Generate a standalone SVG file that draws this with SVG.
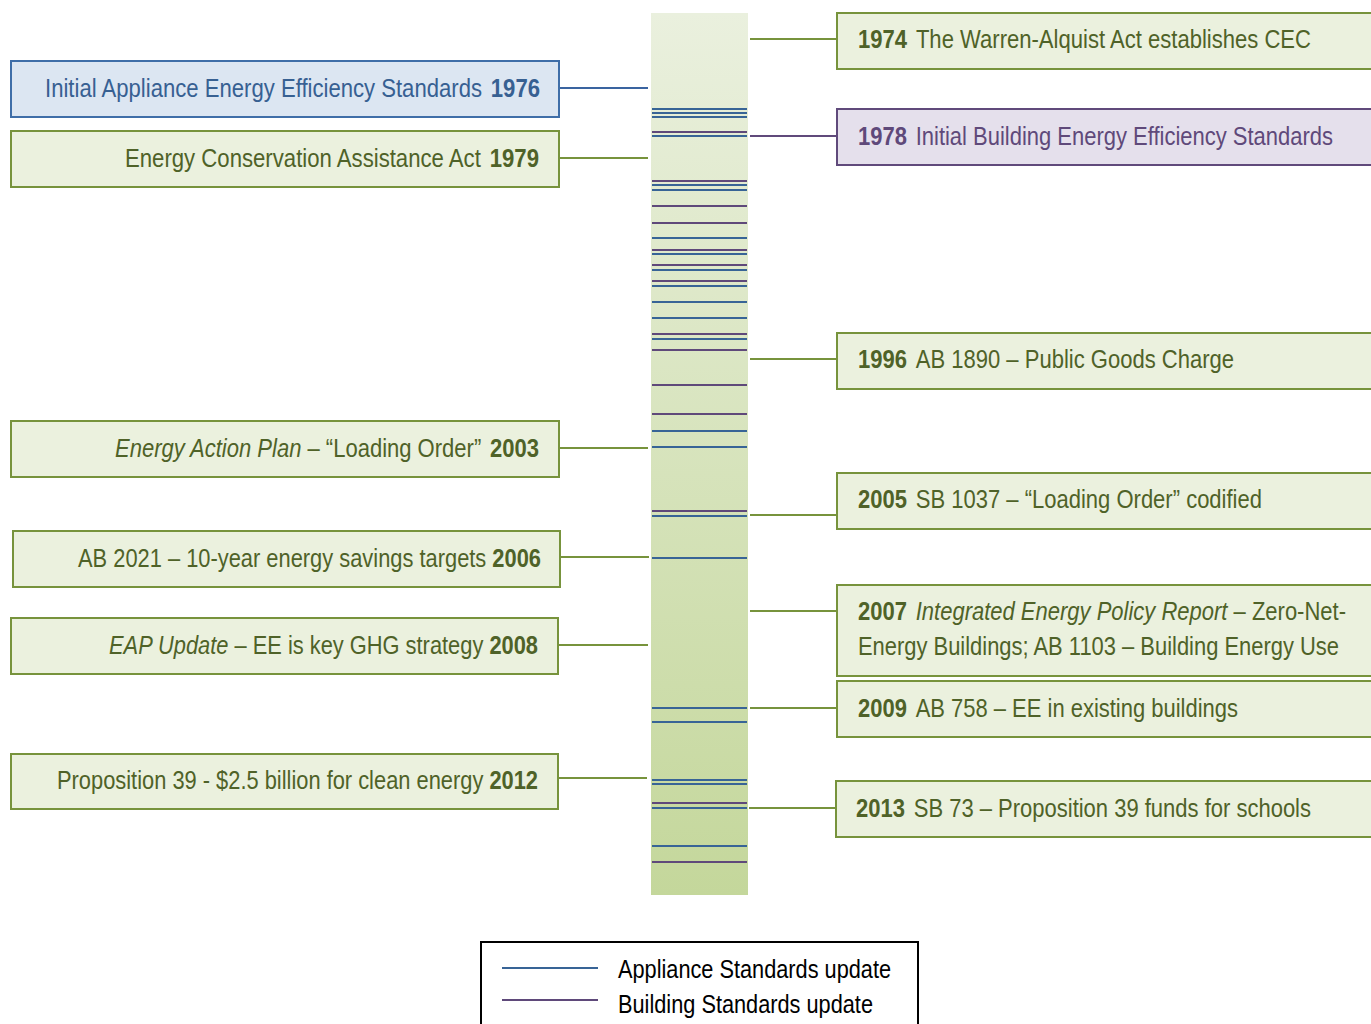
<svg xmlns="http://www.w3.org/2000/svg" width="1371" height="1024" viewBox="0 0 1371 1024">
<style>
text{font-family:"Liberation Sans",Arial,sans-serif;font-size:25px;}
.g{fill:#ebf1de;stroke:#77933c;stroke-width:2;}
.gb{fill:#dce6f2;stroke:#3f6ea8;stroke-width:2;}
.pb{fill:#e5e0ec;stroke:#604a7b;stroke-width:2;}
.gt{fill:#4f6228;}
.bt{fill:#376092;}
.pt{fill:#5f497a;}
.b{font-weight:bold;}
.i{font-style:italic;}
.cg{stroke:#77933c;stroke-width:2;}
.cb{stroke:#3a64a0;stroke-width:2;}
.cp{stroke:#604a7b;stroke-width:2;}
.la{stroke:#386496;stroke-width:2;}
.lp{stroke:#5f497a;stroke-width:2;}
</style>
<defs>
<linearGradient id="bar" x1="0" y1="0" x2="0" y2="1">
<stop offset="0" stop-color="#eaf0de"/>
<stop offset="1" stop-color="#c4d79b"/>
</linearGradient>
</defs>
<rect width="1371" height="1024" fill="#fff"/>
<g id="timeline-bar">
<rect x="651" y="13" width="97" height="882" fill="url(#bar)"/>
<g>
<line class="la" x1="652" x2="747" y1="109" y2="109"/>
<line class="la" x1="652" x2="747" y1="113" y2="113"/>
<line class="la" x1="652" x2="747" y1="117" y2="117"/>
<line class="lp" x1="652" x2="747" y1="132" y2="132"/>
<line class="la" x1="652" x2="747" y1="136" y2="136"/>
<line class="lp" x1="652" x2="747" y1="181" y2="181"/>
<line class="la" x1="652" x2="747" y1="185" y2="185"/>
<line class="la" x1="652" x2="747" y1="190" y2="190"/>
<line class="lp" x1="652" x2="747" y1="206" y2="206"/>
<line class="lp" x1="652" x2="747" y1="223" y2="223"/>
<line class="la" x1="652" x2="747" y1="238" y2="238"/>
<line class="lp" x1="652" x2="747" y1="250" y2="250"/>
<line class="la" x1="652" x2="747" y1="254" y2="254"/>
<line class="lp" x1="652" x2="747" y1="265" y2="265"/>
<line class="la" x1="652" x2="747" y1="270" y2="270"/>
<line class="lp" x1="652" x2="747" y1="281" y2="281"/>
<line class="la" x1="652" x2="747" y1="286" y2="286"/>
<line class="la" x1="652" x2="747" y1="302" y2="302"/>
<line class="la" x1="652" x2="747" y1="318" y2="318"/>
<line class="lp" x1="652" x2="747" y1="334" y2="334"/>
<line class="la" x1="652" x2="747" y1="339" y2="339"/>
<line class="lp" x1="652" x2="747" y1="350" y2="350"/>
<line class="lp" x1="652" x2="747" y1="385" y2="385"/>
<line class="lp" x1="652" x2="747" y1="414" y2="414"/>
<line class="la" x1="652" x2="747" y1="431" y2="431"/>
<line class="la" x1="652" x2="747" y1="447" y2="447"/>
<line class="lp" x1="652" x2="747" y1="511" y2="511"/>
<line class="la" x1="652" x2="747" y1="516" y2="516"/>
<line class="la" x1="652" x2="747" y1="558" y2="558"/>
<line class="la" x1="652" x2="747" y1="708" y2="708"/>
<line class="la" x1="652" x2="747" y1="722" y2="722"/>
<line class="la" x1="652" x2="747" y1="780" y2="780"/>
<line class="la" x1="652" x2="747" y1="784" y2="784"/>
<line class="lp" x1="652" x2="747" y1="803" y2="803"/>
<line class="la" x1="652" x2="747" y1="808" y2="808"/>
<line class="la" x1="652" x2="747" y1="846" y2="846"/>
<line class="lp" x1="652" x2="747" y1="862" y2="862"/>
</g>
</g>
<g id="connectors">
<line class="cb" x1="559" y1="88" x2="648" y2="88"/>
<line class="cg" x1="559" y1="158" x2="648" y2="158"/>
<line class="cg" x1="559" y1="448" x2="648" y2="448"/>
<line class="cg" x1="560" y1="557" x2="649" y2="557"/>
<line class="cg" x1="558" y1="645" x2="648" y2="645"/>
<line class="cg" x1="558" y1="778" x2="647" y2="778"/>
<line class="cg" x1="750" y1="39" x2="837" y2="39"/>
<line class="cp" x1="750" y1="136" x2="837" y2="136"/>
<line class="cg" x1="750" y1="359" x2="837" y2="359"/>
<line class="cg" x1="750" y1="515" x2="837" y2="515"/>
<line class="cg" x1="750" y1="611" x2="837" y2="611"/>
<line class="cg" x1="750" y1="708" x2="837" y2="708"/>
<line class="cg" x1="749" y1="808" x2="836" y2="808"/>
</g>
<g id="n1976">
<rect class="gb" x="11" y="61" width="548" height="56"/>
<text class="bt" x="45" y="97" textLength="495" lengthAdjust="spacingAndGlyphs">Initial Appliance Energy Efficiency Standards<tspan class="b" dx="10">1976</tspan></text>
</g>
<g id="n1979">
<rect class="g" x="11" y="131" width="548" height="56"/>
<text class="gt" x="125" y="167" textLength="414" lengthAdjust="spacingAndGlyphs">Energy Conservation Assistance Act<tspan class="b" dx="10">1979</tspan></text>
</g>
<g id="n2003">
<rect class="g" x="11" y="421" width="548" height="56"/>
<text class="gt" x="115" y="457" textLength="424" lengthAdjust="spacingAndGlyphs"><tspan class="i">Energy Action Plan</tspan> – “Loading Order”<tspan class="b" dx="10">2003</tspan></text>
</g>
<g id="n2006">
<rect class="g" x="13" y="531" width="547" height="56"/>
<text class="gt" x="78" y="567" textLength="463" lengthAdjust="spacingAndGlyphs">AB 2021 – 10-year energy savings targets <tspan class="b">2006</tspan></text>
</g>
<g id="n2008">
<rect class="g" x="11" y="618" width="547" height="56"/>
<text class="gt" x="109" y="654" textLength="429" lengthAdjust="spacingAndGlyphs"><tspan class="i">EAP Update</tspan> – EE is key GHG strategy <tspan class="b">2008</tspan></text>
</g>
<g id="n2012">
<rect class="g" x="11" y="754" width="547" height="55"/>
<text class="gt" x="57" y="789" textLength="481" lengthAdjust="spacingAndGlyphs">Proposition 39 - $2.5 billion for clean energy <tspan class="b">2012</tspan></text>
</g>
<g id="n1974">
<rect class="g" x="837" y="13" width="545" height="56"/>
<text class="gt" x="858" y="48" textLength="453" lengthAdjust="spacingAndGlyphs"><tspan class="b">1974</tspan><tspan dx="10">The Warren-Alquist Act establishes CEC</tspan></text>
</g>
<g id="n1978">
<rect class="pb" x="837" y="109" width="545" height="56"/>
<text class="pt" x="858" y="145" textLength="475" lengthAdjust="spacingAndGlyphs"><tspan class="b">1978</tspan><tspan dx="10">Initial Building Energy Efficiency Standards</tspan></text>
</g>
<g id="n1996">
<rect class="g" x="837" y="333" width="545" height="56"/>
<text class="gt" x="858" y="368" textLength="376" lengthAdjust="spacingAndGlyphs"><tspan class="b">1996</tspan><tspan dx="10">AB 1890 – Public Goods Charge</tspan></text>
</g>
<g id="n2005">
<rect class="g" x="837" y="473" width="545" height="56"/>
<text class="gt" x="858" y="508" textLength="404" lengthAdjust="spacingAndGlyphs"><tspan class="b">2005</tspan><tspan dx="10">SB 1037 – “Loading Order” codified</tspan></text>
</g>
<g id="n2007">
<rect class="g" x="837" y="585" width="545" height="91"/>
<text class="gt" x="858" y="620" textLength="488" lengthAdjust="spacingAndGlyphs"><tspan class="b">2007</tspan><tspan class="i" dx="10">Integrated Energy Policy Report</tspan> – Zero-Net-</text>
<text class="gt" x="858" y="655" textLength="481" lengthAdjust="spacingAndGlyphs">Energy Buildings; AB 1103 – Building Energy Use</text>
</g>
<g id="n2009">
<rect class="g" x="837" y="681" width="545" height="56"/>
<text class="gt" x="858" y="717" textLength="380" lengthAdjust="spacingAndGlyphs"><tspan class="b">2009</tspan><tspan dx="10">AB 758 – EE in existing buildings</tspan></text>
</g>
<g id="n2013">
<rect class="g" x="836" y="781" width="546" height="56"/>
<text class="gt" x="856" y="817" textLength="455" lengthAdjust="spacingAndGlyphs"><tspan class="b">2013</tspan><tspan dx="10">SB 73 – Proposition 39 funds for schools</tspan></text>
</g>
<g id="legend">
<rect x="481" y="942" width="437" height="95" fill="#fff" stroke="#000" stroke-width="2"/>
<line class="la" x1="502" y1="968" x2="598" y2="968"/>
<line class="lp" x1="502" y1="1000" x2="598" y2="1000"/>
<text x="618" y="978" fill="#000" textLength="273" lengthAdjust="spacingAndGlyphs">Appliance Standards update</text>
<text x="618" y="1013" fill="#000" textLength="255" lengthAdjust="spacingAndGlyphs">Building Standards update</text>
</g>
</svg>
